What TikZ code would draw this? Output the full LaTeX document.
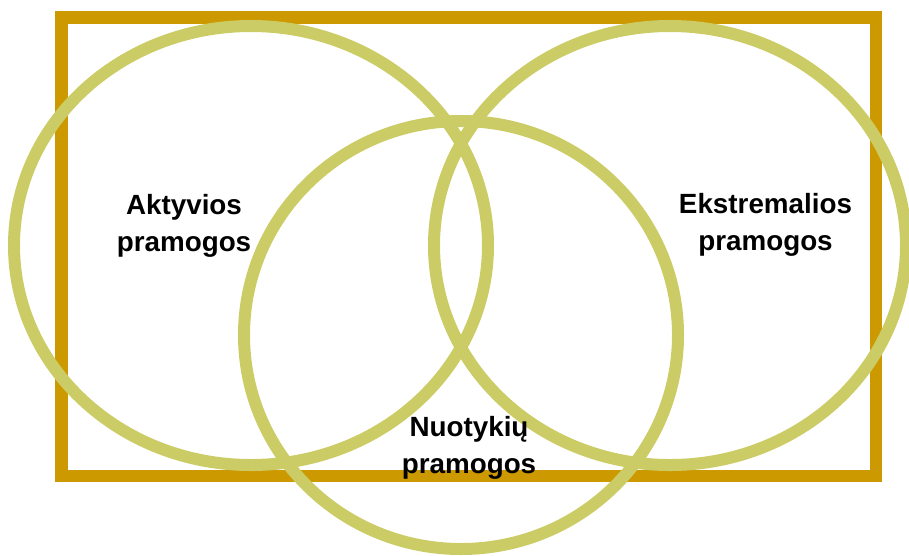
\documentclass[tikz,border=0pt]{standalone}
\usepackage{fontspec}
\setmainfont{Liberation Sans}
\usetikzlibrary{positioning}

\definecolor{frameGold}{HTML}{CC9900}
\definecolor{ringOlive}{HTML}{CCCC66}

\begin{document}
\begin{tikzpicture}[x=1pt,y=-1pt,
    frame/.style={draw=frameGold,line width=12.5pt},
    ring/.style={draw=ringOlive,line width=12pt},
    label/.style={align=center,inner sep=0pt,font=\bfseries\fontsize{27.8}{37.5}\selectfont}
    ]

  \useasboundingbox (0,0) rectangle (909,555);

  % outer box and the three sets
  \draw[frame] (61.5,17.5) rectangle (876,476);
  \draw[ring] (251,245.5) ellipse [x radius=237,y radius=219.5];
  \draw[ring] (670,245.5) ellipse [x radius=236,y radius=219.5];
  \draw[ring] (461,335) ellipse [x radius=217,y radius=214];

  \node(aktyvios) [label] at (184,226) {Aktyvios\\pramogos};
  \node(ekstremalios) [label] at (765.5,225) {Ekstremalios\\pramogos};
  \node(nuotykiu) [label] at (469,448) {Nuotykių\\pramogos};

\end{tikzpicture}
\end{document}
